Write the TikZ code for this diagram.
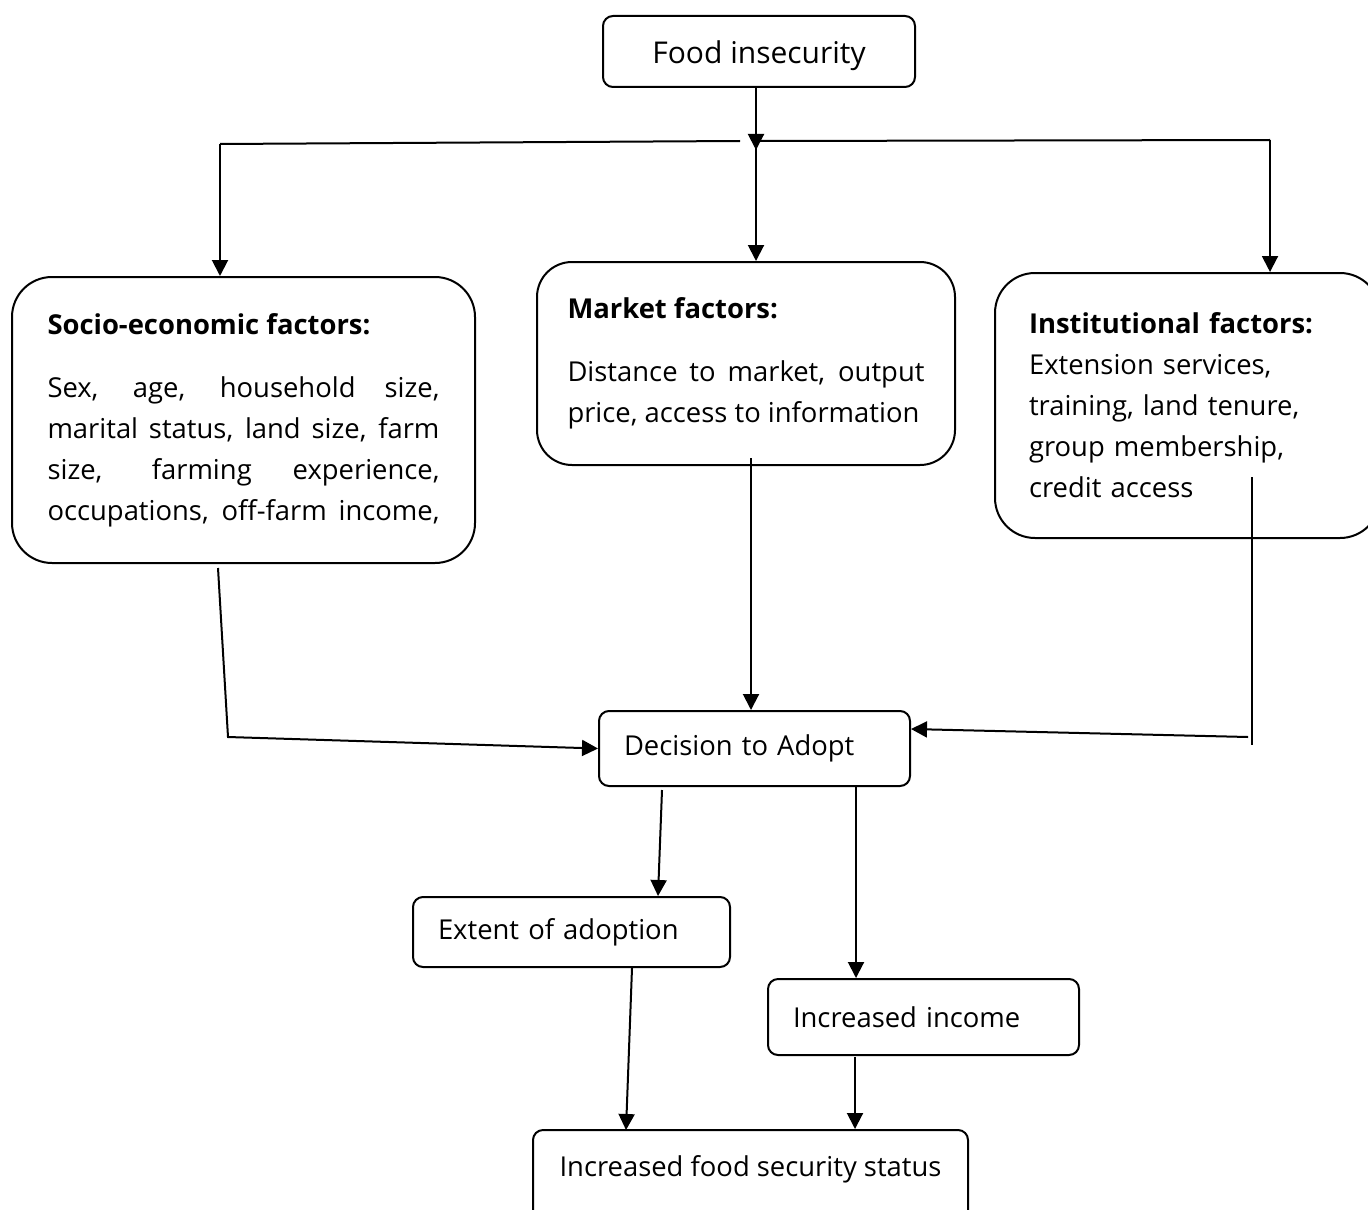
\documentclass[tikz,border=0pt]{standalone}
\usepackage{fontspec}
\setmainfont{Open Sans}
\usetikzlibrary{arrows.meta}

\begin{document}
\begin{tikzpicture}[x=0.5pt, y=-0.5pt,
    every node/.style={font=\fontsize{13.7}{20.5}\selectfont},
    box/.style={draw, line width=1pt, rounded corners=5pt, inner sep=0pt},
    bigbox/.style={draw, line width=1pt, rounded corners=20pt, inner sep=0pt},
    arr/.style={line width=1pt, -{Triangle[length=8pt,width=8pt]}},
    link/.style={line width=1pt}]
    \useasboundingbox (0,0) rectangle (1368,1209);

    % Nodo superior
    \node[box, minimum width=156pt, minimum height=35.5pt, font=\fontsize{15}{20}\selectfont, text height=15.5pt, text depth=3.5pt] (food) at (759,51.5) {Food insecurity};

    % Factores
    \node[bigbox, minimum width=231.5pt, minimum height=143pt, text width=196pt, align=justify] (socio) at (243.5,420)
        {{\bfseries Socio-economic factors:}\par\vspace{11pt}
         {\tolerance=10000 \parfillskip=0pt Sex, age, household size,\linebreak marital status, land size, farm\linebreak size, farming experience,\linebreak occupations, \mbox{off-farm} income,\par}};
    \node[bigbox, rounded corners=17.5pt, minimum width=209pt, minimum height=101.5pt, text width=178.5pt, align=justify] (market) at (746,363.5)
        {{\bfseries Market factors:}\par\vspace{11pt}
         {\tolerance=10000 Distance to market, output\linebreak price, access to information\par}};
    \node[bigbox, minimum width=192.5pt, minimum height=132.5pt, text width=158.5pt, align=left] (inst) at (1187.5,405.5)
        {{\bfseries Institutional factors:}\\ Extension services,\\ training, land tenure,\\ group membership,\\ credit access};

    % Decision y resultados
    \node[box, minimum width=155.5pt, minimum height=37.5pt, text width=130.5pt, align=left] (decision) at (754.5,748.5) {Decision to Adopt};
    \node[box, minimum width=158.5pt, minimum height=35pt, text width=133.5pt, align=left] (extent) at (571.5,932) {Extent of adoption};
    \node[box, minimum width=155.5pt, minimum height=38pt, text width=130.5pt, align=left] (income) at (923.5,1017) {Increased income};
    \node[box, minimum width=217.5pt, minimum height=55pt, text depth=19pt] (fsec) at (750.5,1185) {Increased food security status};

    % Ramas desde el nodo superior
    \coordinate (hub) at (756,150);
    \coordinate (split) at (756,141);
    \coordinate (barL) at (220,144);
    \coordinate (barR) at (1270,140);
    \coordinate (gapL) at (740,141);
    \coordinate (gapR) at (760,141);
    \draw[arr] (food.south -| hub) -- (hub);
    \draw[link] (barL) -- (gapL);
    \draw[link] (gapR) -- (barR);
    \draw[arr] (barL) -- (barL |- socio.north);
    \draw[arr] (split) -- (split |- market.north);
    \draw[arr] (barR) -- (barR |- inst.north);

    % Hacia la decision
    \coordinate (socOut) at (218,568);
    \coordinate (socBend) at (228,737);
    \draw[arr] (socOut) -- (socBend) -- (decision.west);
    \coordinate (mktOut) at (751,458);
    \draw[arr] (mktOut) -- (mktOut |- decision.north);
    \coordinate (instOut) at (1252,477);
    \coordinate (instEnd) at (1252,745);
    \coordinate (instBend) at (1248,737);
    \draw[link] (instOut) -- (instEnd);
    \draw[arr] (instBend) -- ([yshift=9.75pt]decision.east);

    % Resultados
    \coordinate (decOutL) at (662,790);
    \coordinate (extIn) at (658,896);
    \draw[arr] (decOutL) -- (extIn);
    \coordinate (decOutR) at (856,787);
    \draw[arr] (decOutR) -- (decOutR |- income.north);
    \coordinate (extOut) at (632,968);
    \coordinate (fsecIn) at (626,1130);
    \draw[arr] (extOut) -- (fsecIn);
    \coordinate (incOut) at (855,1057);
    \draw[arr] (incOut) -- (incOut |- fsec.north);
\end{tikzpicture}
\end{document}
